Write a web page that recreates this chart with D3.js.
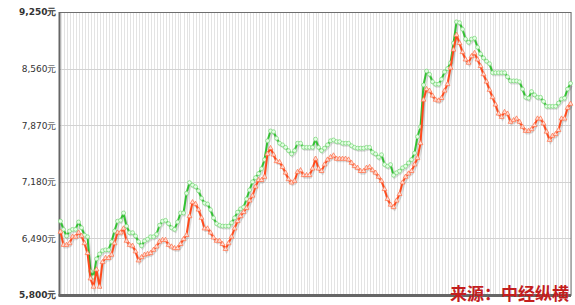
<!DOCTYPE html>
<html>
<head>
<meta charset="utf-8">
<script src="https://cdn.jsdelivr.net/npm/d3@7"></script>
<style>
  html, body { margin: 0; padding: 0; background: #fff; }
  svg { display: block; }
</style>
</head>
<body>
<main></main>
<script>
// price series, one value per day (元)
const upperSeries = [
  6700, 6600, 6520, 6580, 6600, 6600, 6690, 6620, 6530, 6510,
  6090, 6020, 6240, 6300, 6340, 6350, 6350, 6450, 6580, 6700,
  6710, 6800, 6640, 6560, 6560, 6520, 6450, 6400, 6460, 6480,
  6510, 6510, 6540, 6650, 6700, 6710, 6670, 6620, 6600, 6690,
  6800, 6800, 7040, 7170, 7140, 7120, 7070, 6980, 6920, 6910,
  6840, 6740, 6670, 6650, 6640, 6640, 6640, 6680, 6740, 6810,
  6850, 6870, 6970, 7080, 7180, 7230, 7280, 7340, 7450, 7680,
  7800, 7790, 7710, 7650, 7630, 7600, 7560, 7520, 7560, 7650,
  7650, 7600, 7600, 7600, 7600, 7700, 7600, 7560, 7590, 7630,
  7680, 7690, 7670, 7670, 7650, 7650, 7650, 7620, 7600, 7590,
  7590, 7590, 7600, 7600, 7540, 7520, 7480, 7510, 7390, 7370,
  7390, 7260, 7290, 7310, 7350, 7370, 7410, 7450, 7530, 7730,
  7850, 8360, 8530, 8490, 8400, 8370, 8370, 8430, 8520, 8560,
  8630, 8870, 9130, 9120, 9040, 8920, 8880, 8920, 8930, 8820,
  8740, 8690, 8650, 8620, 8510, 8510, 8510, 8510, 8510, 8460,
  8410, 8410, 8410, 8400, 8310, 8210, 8200, 8280, 8240, 8210,
  8210, 8160, 8100, 8100, 8100, 8100, 8140, 8190, 8200, 8310,
  8380
];
const lowerSeries = [
  6570, 6410, 6410, 6430, 6510, 6510, 6560, 6520, 6430, 6310,
  6000, 5900, 6110, 5900, 6200, 6250, 6250, 6290, 6430, 6560,
  6560, 6610, 6460, 6410, 6400, 6330, 6220, 6260, 6290, 6300,
  6310, 6350, 6390, 6450, 6470, 6470, 6410, 6390, 6370, 6370,
  6420, 6480, 6530, 6760, 6930, 6910, 6840, 6740, 6610, 6610,
  6560, 6500, 6460, 6460, 6420, 6360, 6430, 6510, 6610, 6700,
  6760, 6810, 6860, 6950, 7010, 7120, 7200, 7200, 7240, 7520,
  7590, 7510, 7430, 7420, 7360, 7290, 7210, 7170, 7190, 7300,
  7320, 7260, 7260, 7260, 7340, 7460, 7340, 7310, 7390, 7450,
  7480, 7500, 7460, 7460, 7460, 7460, 7450, 7410, 7370, 7350,
  7310, 7310, 7350, 7360, 7320, 7290, 7240, 7190, 7090, 6970,
  6900, 6870, 6950, 7030, 7170, 7240, 7280, 7310, 7390, 7470,
  7650, 8180, 8310, 8290, 8230, 8180, 8170, 8200, 8290, 8370,
  8570, 8790, 8970, 8870, 8760, 8670, 8630, 8710, 8750, 8670,
  8590, 8490, 8400, 8300, 8210, 8120, 8010, 7970, 8030, 8010,
  7910, 7930, 7950, 7910, 7850, 7800, 7800, 7820, 7870, 7950,
  7950, 7890, 7790, 7690, 7740, 7760, 7810, 7950, 7950, 8080,
  8130
];
const yTicks = [5800, 6490, 7180, 7870, 8560, 9250];
const sourceText = '来源：中经纵横';

const width = 575;
const height = 305;
const plot = { left: 59.5, right: 571, top: 12, bottom: 295 };

const svg = d3.select('main')
  .append('svg')
  .attr('width', width)
  .attr('height', height);

const x = d3.scaleLinear()
  .domain([0, upperSeries.length - 1])
  .range([60.5, 570.5]);

const y = d3.scaleLinear()
  .domain([5800, 9250])
  .range([plot.bottom, plot.top]);

// vertical grid, one line per day
svg.append('g')
  .selectAll('line')
  .data(d3.range(upperSeries.length))
  .join('line')
  .attr('x1', d => Math.round(x(d)) + 0.5)
  .attr('x2', d => Math.round(x(d)) + 0.5)
  .attr('y1', plot.top)
  .attr('y2', plot.bottom)
  .attr('stroke', '#e3e3e3')
  .attr('stroke-width', 1);

// horizontal grid
svg.append('g')
  .selectAll('line')
  .data(yTicks)
  .join('line')
  .attr('x1', plot.left)
  .attr('x2', plot.right)
  .attr('y1', d => Math.round(y(d)) + 0.5)
  .attr('y2', d => Math.round(y(d)) + 0.5)
  .attr('stroke', '#d2d2d2')
  .attr('stroke-width', 1);

// frame
svg.append('rect')
  .attr('x', plot.left)
  .attr('y', plot.top + 0.5)
  .attr('width', plot.right - plot.left)
  .attr('height', plot.bottom - plot.top)
  .attr('fill', 'none')
  .attr('stroke', '#6e6e6e')
  .attr('stroke-width', 1);

svg.append('line')
  .attr('x1', plot.left).attr('x2', plot.left)
  .attr('y1', plot.top).attr('y2', plot.bottom + 1)
  .attr('stroke', '#666').attr('stroke-width', 2);

svg.append('line')
  .attr('x1', plot.left - 1).attr('x2', plot.right)
  .attr('y1', plot.bottom + 0.5).attr('y2', plot.bottom + 0.5)
  .attr('stroke', '#666').attr('stroke-width', 3);

// y axis labels
const yAxis = d3.axisLeft(y)
  .tickValues(yTicks)
  .tickSize(0)
  .tickPadding(2)
  .tickFormat(d => d3.format(',')(d) + '元');

svg.append('g')
  .attr('transform', `translate(${plot.left - 1},0)`)
  .call(yAxis)
  .call(g => g.select('.domain').remove())
  .call(g => g.selectAll('text')
    .style('font-family', '"DejaVu Sans", sans-serif')
    .style('font-size', '9px')
    .style('fill', '#333')
    .style('font-weight', d => (d === 5800 || d === 9250) ? 700 : 400));

const line = d3.line()
  .x((d, i) => x(i))
  .y(d => y(d));

function drawSeries(data, color, markerFill, markerStroke, shape) {
  // soft shadow
  svg.append('path')
    .datum(data)
    .attr('d', line)
    .attr('transform', 'translate(1,2)')
    .attr('fill', 'none')
    .attr('stroke', '#000')
    .attr('stroke-opacity', 0.13)
    .attr('stroke-width', 3);

  svg.append('path')
    .datum(data)
    .attr('d', line)
    .attr('fill', 'none')
    .attr('stroke', color)
    .attr('stroke-width', 2)
    .attr('stroke-linejoin', 'round');

  const sym = d3.symbol().type(shape).size(shape === d3.symbolCircle ? 12 : 10);
  svg.append('g')
    .selectAll('path')
    .data(data)
    .join('path')
    .attr('d', sym)
    .attr('transform', (d, i) => `translate(${x(i)},${y(d)})`)
    .attr('fill', markerFill)
    .attr('stroke', markerStroke)
    .attr('stroke-width', 0.8);
}

drawSeries(upperSeries, '#33c133', '#e6ffe6', '#7fd97f', d3.symbolCircle);
drawSeries(lowerSeries, '#ff4a1c', '#ffe0d8', '#ff7a55', d3.symbolTriangle);

// source watermark
svg.append('text')
  .attr('x', 569)
  .attr('y', 300)
  .attr('text-anchor', 'end')
  .style('font-family', '"Noto Sans CJK SC", sans-serif')
  .style('font-size', '17px')
  .style('font-weight', 700)
  .style('fill', '#c41e1e')
  .text(sourceText);
</script>
</body>
</html>
